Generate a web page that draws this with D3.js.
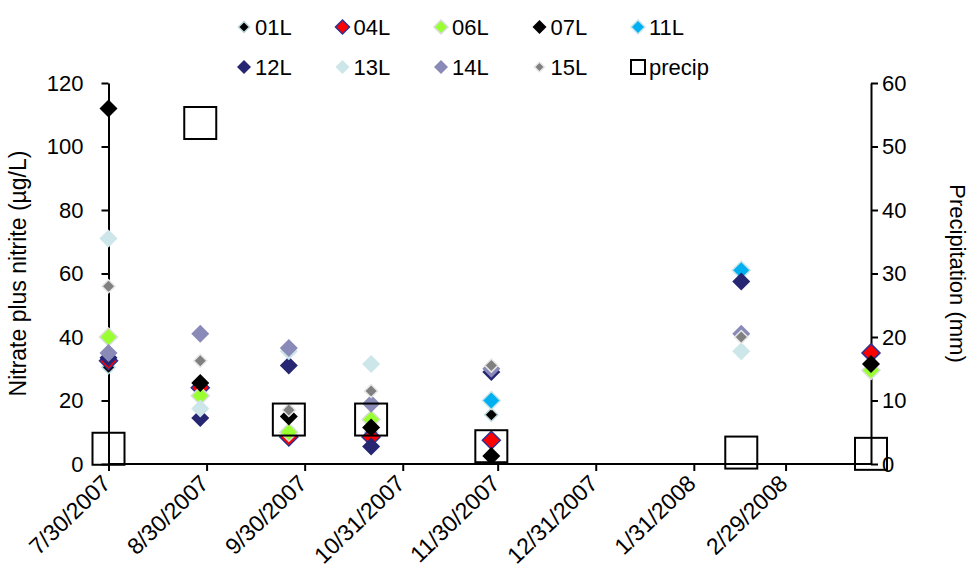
<!DOCTYPE html>
<html>
<head>
<meta charset="utf-8">
<script src="https://cdn.jsdelivr.net/npm/d3@7"></script>
<style>
  html, body { margin: 0; padding: 0; background: #fff; }
  svg text { font-family: "Liberation Sans", Arial, sans-serif; fill: #000; }
</style>
</head>
<body>
<svg id="chart" width="970" height="571"></svg>
<script>
// ---------------- DATA ----------------
const sampleDates = ["2007-07-30", "2007-08-28", "2007-09-25", "2007-10-21", "2007-11-28", "2008-02-15", "2008-03-27"];
const s01L = [30.5, 17, 9.5, 10, 15.5, null, 31];
const s04L = [32.5, 24, 8.5, 8.5, 7.5, null, 35];
const s06L = [40, 21.5, 10, 14, null, null, 29.5];
const s07L = [112, 25.5, 15, 11.5, 2.5, null, 31.5];
const s11L = [null, null, null, null, 20, 61, null];
const s12L = [33.5, 14.5, 31, 5.5, 29, 57.5, null];
const s13L = [71, 17.5, 35.5, 31.5, null, 35.5, null];
const s14L = [35, 41, 36.5, 19, 30, 41, null];
const s15L = [56, 32.5, 17, 23, 31, 40, null];
const precip = [2.4, 53.7, 7.0, 7.0, 2.8, 1.8, 1.6];

const xTickLabels = ["7/30/2007", "8/30/2007", "9/30/2007", "10/31/2007", "11/30/2007", "12/31/2007", "1/31/2008", "2/29/2008"];
const leftTicks = [0, 20, 40, 60, 80, 100, 120];
const rightTicks = [0, 10, 20, 30, 40, 50, 60];
const seriesNames = ["01L", "04L", "06L", "07L", "11L", "12L", "13L", "14L", "15L"];
const seriesValues = [s01L, s04L, s06L, s07L, s11L, s12L, s13L, s14L, s15L];

// ---------------- STYLES ----------------
const styles = {
  "01L": { fill: "#000000", stroke: "#b9d8dc", r: 6.5, lr: 5.5 },
  "04L": { fill: "#ff0000", stroke: "#2e3192", r: 9, lr: 7 },
  "06L": { fill: "#99ff33", stroke: "#dcdcdc", r: 9, lr: 7 },
  "07L": { fill: "#000000", stroke: "none", r: 9, lr: 7 },
  "11L": { fill: "#00b0f0", stroke: "#c9e4e8", r: 9, lr: 7 },
  "12L": { fill: "#262673", stroke: "none", r: 9, lr: 7 },
  "13L": { fill: "#cce6ea", stroke: "none", r: 9, lr: 7 },
  "14L": { fill: "#8a8ab8", stroke: "none", r: 9, lr: 7 },
  "15L": { fill: "#808080", stroke: "#e6e6e6", r: 6.5, lr: 5 }
};

const parse = d3.utcParse("%Y-%m-%d");
const parseTick = d3.utcParse("%m/%d/%Y");
const dates = sampleDates.map(parse);

const svg = d3.select("#chart");
const margin = { left: 108.5, right: 970 - 871, top: 83, bottom: 571 - 464 };
const W = 970, H = 571;

const x = d3.scaleUtc()
  .domain([parse("2007-07-30"), parse("2008-03-27")])
  .range([margin.left, W - margin.right]);
const yL = d3.scaleLinear().domain([0, 120]).range([H - margin.bottom, margin.top]);
const yR = d3.scaleLinear().domain([0, 60]).range([H - margin.bottom, margin.top]);

const diamond = r => `M0,${-r}L${r},0L0,${r}L${-r},0Z`;

// ---------------- AXES ----------------
const fontSize = 22;

const tickDates = xTickLabels.map(parseTick);
const xAxis = d3.axisBottom(x)
  .tickValues(tickDates)
  .tickSize(7)
  .tickSizeOuter(0)
  .tickFormat((d, i) => xTickLabels[i]);

const gx = svg.append("g")
  .attr("transform", `translate(0,${H - margin.bottom})`)
  .call(xAxis);
gx.select(".domain").attr("stroke", "#000").attr("stroke-width", 2)
  .attr("d", `M${margin.left},0H${W - margin.right}`);
gx.selectAll(".tick line").attr("stroke", "#000").attr("stroke-width", 2);
gx.selectAll(".tick text")
  .attr("font-size", 23)
  .attr("font-family", "Liberation Sans, Arial, sans-serif")
  .attr("text-anchor", "end")
  .attr("dy", "0")
  .attr("x", 0).attr("y", 0)
  .attr("transform", "translate(3,21) rotate(-44)");

const gyL = svg.append("g")
  .attr("transform", `translate(${margin.left},0)`)
  .call(d3.axisLeft(yL).tickValues(leftTicks).tickSize(7).tickSizeOuter(0).tickPadding(18));
gyL.select(".domain").attr("stroke", "#000").attr("stroke-width", 2);
gyL.selectAll(".tick line").attr("stroke", "#000").attr("stroke-width", 2);
gyL.selectAll(".tick text").attr("font-size", fontSize).attr("font-family", "Liberation Sans, Arial, sans-serif");

const gyR = svg.append("g")
  .attr("transform", `translate(${W - margin.right},0)`)
  .call(d3.axisRight(yR).tickValues(rightTicks).tickSize(7).tickSizeOuter(0).tickPadding(4));
gyR.select(".domain").attr("stroke", "#000").attr("stroke-width", 2);
gyR.selectAll(".tick line").attr("stroke", "#000").attr("stroke-width", 2);
gyR.selectAll(".tick text").attr("font-size", fontSize).attr("font-family", "Liberation Sans, Arial, sans-serif");

// axis titles
svg.append("text")
  .attr("transform", `translate(26,${(yL(0) + yL(120)) / 2}) rotate(-90)`)
  .attr("text-anchor", "middle")
  .attr("font-size", 23)
  .text("Nitrate plus nitrite (µg/L)");

svg.append("text")
  .attr("transform", `translate(950,${(yR(0) + yR(60)) / 2}) rotate(90)`)
  .attr("text-anchor", "middle")
  .attr("font-size", fontSize)
  .text("Precipitation (mm)");

// ---------------- MARKS ----------------
const plot = svg.append("g");
seriesNames.forEach((name, i) => {
  const st = styles[name];
  const pts = dates.map((d, j) => ({ d, v: seriesValues[i][j] })).filter(p => p.v != null);
  plot.append("g").selectAll("path")
    .data(pts)
    .join("path")
    .attr("d", diamond(st.r))
    .attr("transform", p => `translate(${x(p.d)},${yL(p.v)})`)
    .attr("fill", st.fill)
    .attr("stroke", st.stroke)
    .attr("stroke-width", st.stroke === "none" ? 0 : 1.5);
});

const sq = 32;
plot.append("g").selectAll("rect")
  .data(dates.map((d, j) => ({ d, v: precip[j] })))
  .join("rect")
  .attr("x", p => x(p.d) - sq / 2)
  .attr("y", p => yR(p.v) - sq / 2)
  .attr("width", sq).attr("height", sq)
  .attr("fill", "none")
  .attr("stroke", "#000")
  .attr("stroke-width", 2);

// ---------------- LEGEND ----------------
const legendItems = seriesNames.concat(["precip"]);
const legend = svg.append("g");
const colStep = 98.5, col0 = 244, row0 = 27, rowStep = 40;
legendItems.forEach((name, i) => {
  const col = i % 5, row = Math.floor(i / 5);
  const cx = col0 + col * colStep, cy = row0 + row * rowStep;
  const g = legend.append("g").attr("transform", `translate(${cx},${cy})`);
  if (name === "precip") {
    g.append("rect").attr("x", -7).attr("y", -7).attr("width", 14).attr("height", 14)
      .attr("fill", "none").attr("stroke", "#000").attr("stroke-width", 2);
  } else {
    const st = styles[name];
    g.append("path").attr("d", diamond(st.lr))
      .attr("fill", st.fill).attr("stroke", st.stroke)
      .attr("stroke-width", st.stroke === "none" ? 0 : 1.5);
  }
  g.append("text").attr("x", 11).attr("y", 0).attr("dy", "0.36em")
    .attr("font-size", fontSize).text(name);
});
</script>
</body>
</html>
